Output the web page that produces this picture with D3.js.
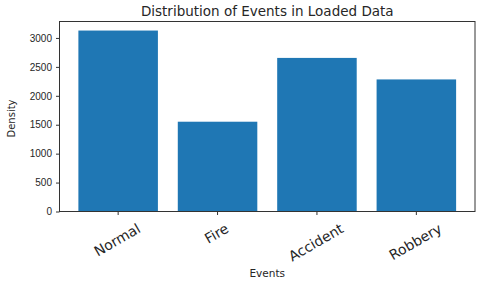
<!DOCTYPE html>
<html>
<head>
<meta charset="utf-8">
<script src="https://cdn.jsdelivr.net/npm/d3@7"></script>
<style>
  body { margin: 0; background: #fff; }
  svg { display: block; font-family: 'DejaVu Sans', sans-serif; }
  .axis text { fill: #262626; }
  .axis line, .axis path { stroke: #333; }
</style>
</head>
<body>
<div id="chart"></div>
<script>
const categories = ['Normal', 'Fire', 'Accident', 'Robbery']
const counts = [3128, 1552, 2655, 2283]
const yTicks = [0, 500, 1000, 1500, 2000, 2500, 3000]

const margin = { top: 21.5, right: 5, bottom: 72.5, left: 59.5 }
const width = 480 - margin.left - margin.right
const height = 284 - margin.top - margin.bottom

const svg = d3
  .select('#chart')
  .append('svg')
  .attr('width', 480)
  .attr('height', 284)

const g = svg
  .append('g')
  .attr('transform', 'translate(' + margin.left + ',' + margin.top + ')')

// matplotlib style: bars 0.8 wide, 5% margins on each side
const xPositionScale = d3
  .scaleBand()
  .domain(categories)
  .range([0, width])
  .paddingInner(0.2)
  .paddingOuter(0.19)

const yPositionScale = d3
  .scaleLinear()
  .domain([0, d3.max(counts) * 1.05])
  .range([height, 0])

// bars
g.selectAll('rect')
  .data(categories)
  .enter()
  .append('rect')
  .attr('x', d => xPositionScale(d))
  .attr('y', (d, i) => yPositionScale(counts[i]))
  .attr('width', xPositionScale.bandwidth())
  .attr('height', (d, i) => height - yPositionScale(counts[i]))
  .attr('fill', '#1f77b4')

// y axis
const yAxis = d3
  .axisLeft(yPositionScale)
  .tickValues(yTicks)
  .tickFormat(d3.format('d'))
  .tickSize(3.5)
  .tickPadding(4)

g.append('g')
  .attr('class', 'axis y-axis')
  .call(yAxis)
  .call(s => s.select('.domain').remove())
  .selectAll('text')
  .attr('font-size', 10)

// x axis ticks, labels drawn separately (rotated around their centre)
const xAxis = d3
  .axisBottom(xPositionScale)
  .tickSize(3.5)
  .tickFormat('')

g.append('g')
  .attr('class', 'axis x-axis')
  .attr('transform', 'translate(0,' + height + ')')
  .call(xAxis)
  .call(s => s.select('.domain').remove())

const labelTop = height + 10
g.append('g')
  .attr('class', 'axis x-labels')
  .selectAll('text')
  .data(categories)
  .enter()
  .append('text')
  .text(d => d)
  .attr('font-size', 14)
  .attr('text-anchor', 'middle')
  .attr('dy', '0.35em')
  .each(function(d) {
    const w = this.getComputedTextLength()
    const h = 14 * 0.95
    const rh = w * 0.5 + h * 0.866
    const cx = xPositionScale(d) + xPositionScale.bandwidth() / 2 - 1
    const cy = labelTop + rh / 2
    d3.select(this)
      .attr('x', cx)
      .attr('y', cy)
      .attr('transform', 'rotate(-30,' + cx + ',' + cy + ')')
  })

// frame
g.append('rect')
  .attr('width', width)
  .attr('height', height)
  .attr('fill', 'none')
  .attr('stroke', '#333')
  .attr('stroke-width', 1)

// title and axis labels
svg.append('text')
  .attr('x', margin.left + width / 2)
  .attr('y', 16)
  .attr('text-anchor', 'middle')
  .attr('font-size', 13.5)
  .attr('fill', '#262626')
  .text('Distribution of Events in Loaded Data')

svg.append('text')
  .attr('x', margin.left + width / 2)
  .attr('y', 277)
  .attr('text-anchor', 'middle')
  .attr('font-size', 10.5)
  .attr('fill', '#262626')
  .text('Events')

svg.append('text')
  .attr('transform', 'translate(14.5,' + (margin.top + height / 2 + 2) + ') rotate(-90)')
  .attr('text-anchor', 'middle')
  .attr('font-size', 10)
  .attr('fill', '#262626')
  .text('Density')
</script>
</body>
</html>
